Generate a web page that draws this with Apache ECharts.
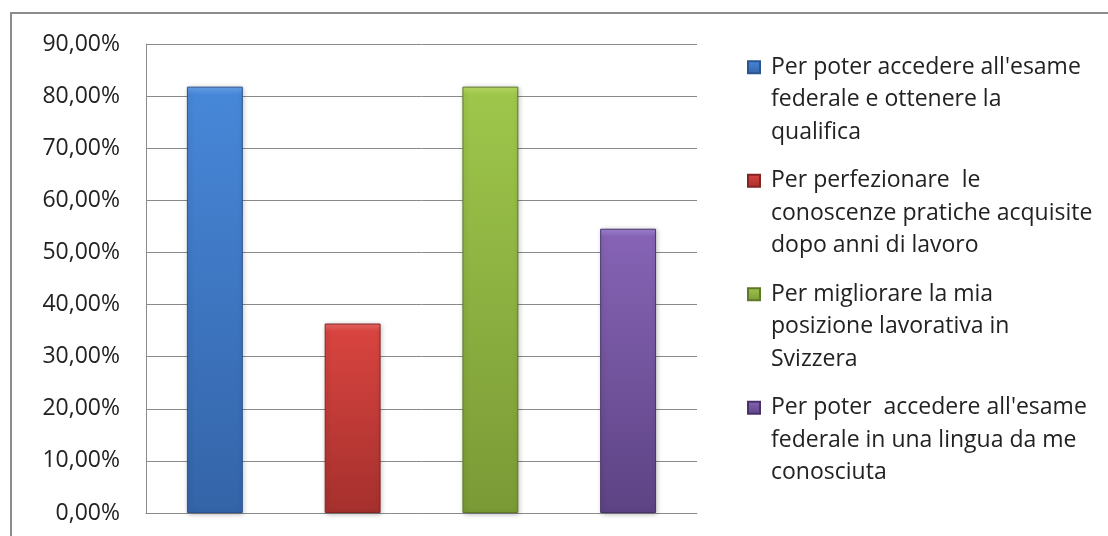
<!DOCTYPE html>
<html>
<head>
<meta charset="utf-8">
<script src="https://cdn.jsdelivr.net/npm/echarts@6/dist/echarts.min.js"></script>
<style>
  html, body { margin: 0; padding: 0; background: #fff; overflow: hidden; }
  #frame { position: absolute; left: 10px; top: 12px; width: 1200px; height: 600px;
           border-top: 2px solid #8c8c8c; border-left: 2px solid #8c8c8c; }
  #chart { position: absolute; left: 0; top: 0; width: 1108px; height: 536px; }
</style>
</head>
<body>
<div id="frame"></div>
<div id="chart"></div>
<script>
// Motivazioni per la frequenza del corso (percentuale di risposte)
const categories = ['A', 'B', 'C', 'D'];
const seriesNames = [
  "Per poter accedere all'esame\nfederale e ottenere la\nqualifica",
  "Per perfezionare  le\nconoscenze pratiche acquisite\ndopo anni di lavoro",
  "Per migliorare la mia\nposizione lavorativa in\nSvizzera",
  "Per poter  accedere all'esame\nfederale in una lingua da me\nconosciuta"
];
const values = [81.82, 36.36, 81.82, 54.55];
const yTicks = { min: 0, max: 90, interval: 10 };

// bevel / body / bottom / edge shades for each bar
const palette = [
  { bevel: '#6aa4ec', top: '#4787d8', bottom: '#3464a8', edge: '#2b5590' },
  { bevel: '#ea6a66', top: '#d8443f', bottom: '#a5302d', edge: '#842523' },
  { bevel: '#bde066', top: '#9ec64b', bottom: '#7a9a36', edge: '#5d7829' },
  { bevel: '#a384d6', top: '#8663b5', bottom: '#5d4384', edge: '#47326a' }
];

const pxPerUnit = 468 / 90;
function barStyle(i, v) {
  const p = palette[i];
  const b = Math.min(0.3, 8 / (v * pxPerUnit));
  return {
    color: {
      type: 'linear', x: 0, y: 0, x2: 0, y2: 1,
      colorStops: [
        { offset: 0, color: p.bevel },
        { offset: b, color: p.top },
        { offset: 1, color: p.bottom }
      ]
    },
    borderColor: p.edge,
    borderWidth: 1,
    shadowBlur: 5,
    shadowColor: 'rgba(0,0,0,0.25)',
    shadowOffsetX: 1,
    shadowOffsetY: 1
  };
}

const series = seriesNames.map((name, i) => ({
  name: name,
  type: 'bar',
  stack: 'tot',
  barWidth: '40.6%',
  itemStyle: barStyle(i, values[i]),
  data: categories.map((c, j) => (j === i ? values[i] : '-'))
}));

const chart = echarts.init(document.getElementById('chart'), null, { renderer: 'canvas' });
chart.setOption({
  animation: false,
  backgroundColor: 'transparent',
  grid: { left: 146, right: 411, top: 44, bottom: 23, containLabel: false },
  xAxis: {
    type: 'category',
    data: categories,
    axisLine: { show: true, lineStyle: { color: '#8a8a8a', width: 1 } },
    axisTick: { show: false },
    axisLabel: { show: false }
  },
  yAxis: {
    type: 'value',
    min: yTicks.min, max: yTicks.max, interval: yTicks.interval,
    axisLine: { show: true, lineStyle: { color: '#8a8a8a', width: 1 } },
    axisTick: { show: false },
    splitLine: { lineStyle: { color: '#8a8a8a', width: 1 } },
    axisLabel: {
      margin: 26,
      color: '#222',
      fontFamily: 'Open Sans',
      fontSize: 23,
      formatter: v => v.toFixed(2).replace('.', ',') + '%'
    }
  },
  legend: {
    orient: 'vertical',
    left: 747,
    top: -14,
    padding: 0,
    itemGap: -49,
    itemWidth: 12,
    itemHeight: 12,
    icon: 'rect',
    selectedMode: false,
    // two leading blank lines keep the swatch level with the first text line
    formatter: name => ' \n \n' + name,
    textStyle: {
      color: '#222',
      fontFamily: 'Open Sans',
      fontSize: 23,
      lineHeight: 32.5,
      padding: [0, 0, 0, 6]
    },
    data: seriesNames
  },
  series: series
});
</script>
</body>
</html>
